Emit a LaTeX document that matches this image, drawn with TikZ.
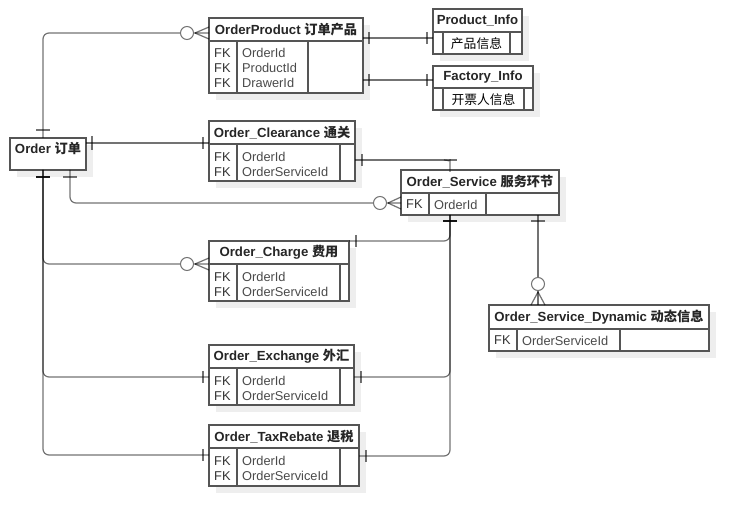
\documentclass[tikz,border=0pt]{standalone}
\usepackage{fontspec}
\setmainfont{Liberation Sans}
\newfontfamily\cjk{Noto Sans CJK SC}
\definecolor{bordc}{HTML}{555555}
\definecolor{shadc}{HTML}{EEEEEE}
\definecolor{txtc}{HTML}{333333}
\definecolor{fldc}{HTML}{4A4A4A}
\tikzset{
 box/.style={draw=bordc, line width=1.3pt, fill=white, inner sep=0pt, outer sep=0pt},
 divl/.style={draw=bordc, line width=1.1pt},
 conn/.style={draw=black, draw opacity=0.55, line width=1.2pt, rounded corners=6pt},
 tick/.style={draw=black, draw opacity=0.55, line width=1.2pt},
 ring/.style={circle, draw=black!55, fill=white, line width=1pt, minimum size=13pt, inner sep=0pt},
 htxt/.style={font=\fontsize{13.2}{15}\selectfont\bfseries, text=black!85, inner sep=0pt},
 ftxt/.style={font=\fontsize{12.8}{15}\selectfont, text=fldc, inner sep=0pt, anchor=west},
 fktxt/.style={font=\fontsize{12.8}{15}\selectfont, text=txtc, inner sep=0pt, anchor=west},
 cjktxt/.style={font=\fontsize{12.8}{15}\selectfont\cjk, text=black, inner sep=0pt},
}
% rectangle node from corners
\newcommand\rectnode[5]{%
 \pgfmathsetmacro\cxx{(#2+#4)/2}\pgfmathsetmacro\cyy{(#3+#5)/2}%
 \pgfmathsetmacro\ww{#4-#2}\pgfmathsetmacro\hh{#5-#3}%
 \node[box, minimum width=\ww pt, minimum height=\hh pt] (#1) at (\cxx,\cyy) {};}
% entity: #1 name, #2 x1, #3 y1, #4 x2, #5 yh, #6 y2, #7 header, #8 div1, #9 div2
\newcommand\entity[9]{%
 \fill[shadc] (#2+7,#3+7) rectangle (#4+7,#6+7);
 \rectnode{#1}{#2}{#3}{#4}{#5}
 \rectnode{#1b}{#2}{#5}{#4}{#6}
 \node[htxt] (#1t) at (#1.center) {#7};
 \draw[divl] (#8,#5) -- (#8,#6);
 \draw[divl] (#9,#5) -- (#9,#6);
}
\begin{document}
\begin{tikzpicture}[x=1pt,y=-1pt]
\useasboundingbox[fill=white] (0,0) rectangle (748,526);

% Order
\fill[shadc] (17,145) rectangle (93,177);
\rectnode{ord}{10}{138}{86}{170}
\node[htxt] (ordt) at (48,148) {Order {\cjk 订单}};

% entities
\entity{op}{209}{18}{363}{41}{93}{OrderProduct {\cjk 订单产品}}{237}{308}
\node[fktxt] (op1a) at (214,53) {FK};
\node[fktxt] (op2a) at (214,68) {FK};
\node[fktxt] (op3a) at (214,83) {FK};
\node[ftxt] (op1b) at (242,53) {OrderId};
\node[ftxt] (op2b) at (242,68) {ProductId};
\node[ftxt] (op3b) at (242,83) {DrawerId};

\entity{pi}{433}{9}{522}{32}{54}{Product\_Info}{443}{510}
\node[cjktxt] (pit1) at (476.5,43.5) {产品信息};

\entity{fi}{433}{66}{533}{88}{110}{Factory\_Info}{443}{524}
\node[cjktxt] (fit1) at (483.5,99.5) {开票人信息};

\entity{oc}{209}{121}{355}{144}{181}{Order\_Clearance {\cjk 通关}}{237}{340}
\node[fktxt] (oc1a) at (214,157) {FK};
\node[fktxt] (oc2a) at (214,172) {FK};
\node[ftxt] (oc1b) at (242,157) {OrderId};
\node[ftxt] (oc2b) at (242,172) {OrderServiceId};

\entity{os}{401}{170}{559}{193}{215}{Order\_Service {\cjk 服务环节}}{429}{486}
\node[fktxt] (os1a) at (406,204.5) {FK};
\node[ftxt] (os1b) at (434,204.5) {OrderId};

\entity{ch}{209}{241}{349}{264}{301}{Order\_Charge {\cjk 费用}}{237}{340}
\node[fktxt] (ch1a) at (214,277) {FK};
\node[fktxt] (ch2a) at (214,292) {FK};
\node[ftxt] (ch1b) at (242,277) {OrderId};
\node[ftxt] (ch2b) at (242,292) {OrderServiceId};

\entity{ex}{209}{345}{354}{368}{405}{Order\_Exchange {\cjk 外汇}}{237}{340}
\node[fktxt] (ex1a) at (214,381) {FK};
\node[fktxt] (ex2a) at (214,396) {FK};
\node[ftxt] (ex1b) at (242,381) {OrderId};
\node[ftxt] (ex2b) at (242,396) {OrderServiceId};

\entity{tr}{209}{425}{359}{448}{486}{Order\_TaxRebate {\cjk 退税}}{237}{340}
\node[fktxt] (tr1a) at (214,461) {FK};
\node[fktxt] (tr2a) at (214,476) {FK};
\node[ftxt] (tr1b) at (242,461) {OrderId};
\node[ftxt] (tr2b) at (242,476) {OrderServiceId};

\entity{sd}{489}{305}{709}{329}{351}{Order\_Service\_Dynamic {\cjk 动态信息}}{517}{620}
\node[fktxt] (sd1a) at (494,340.5) {FK};
\node[ftxt] (sd1b) at (522,340.5) {OrderServiceId};

% connectors
\draw[conn] (ord.north -| 43,0) |- (op.west |- 0,33);
\draw[conn] (op.east |- 0,38) -- (pib.west |- 0,38);
\draw[conn] (opb.east |- 0,80) -- (fi.west |- 0,80);
\draw[conn] (ord.east |- 0,143) -- (oc.west |- 0,143);
\draw[conn] (ord.south -| 70,0) |- (osb.west |- 0,203);
\draw[conn] (ord.south -| 43,0) |- (ch.south west);
\draw[conn] (ord.south -| 43,0) |- (exb.west |- 0,377);
\draw[conn] (ord.south -| 43,0) |- (trb.west |- 0,455);
\draw[conn] (ocb.east |- 0,160) -- (457,160);
\draw[conn] (444,160) .. controls (448,160) and (450,162) .. (450,166) -- (os.north -| 450,0);
\draw[conn] (osb.south -| 450,0) |- (ch.north east);
\draw[conn] (osb.south -| 450,0) |- (exb.east |- 0,377);
\draw[conn] (osb.south -| 450,0) |- (trb.east |- 0,456);
\draw[conn] (osb.south -| 538,0) -- (sd.north -| 538,0);

% one-marks
\draw[tick] (36,130) -- (50,130);
\draw[tick] (369,32) -- (369,44);
\draw[tick] (427,32) -- (427,44);
\draw[tick] (369,74) -- (369,86);
\draw[tick] (427,74) -- (427,86);
\draw[tick] (92,136) -- (92,150);
\draw[tick] (203,137) -- (203,149);
\draw[tick] (63,177) -- (77,177);
\foreach \k in {1,2,3} {\draw[tick] (36,177) -- (50,177);}
\draw[tick] (203,371) -- (203,383);
\draw[tick] (203,449) -- (203,461);
\draw[tick] (362,154) -- (362,166);
\draw[tick] (356,235) -- (356,247);
\draw[tick] (361,371) -- (361,383);
\draw[tick] (366,450) -- (366,462);
\foreach \k in {1,2,3} {\draw[tick] (443,221) -- (457,221);}
\draw[tick] (531,221) -- (545,221);

% zero-or-many marks
\node[ring] (r1) at (187,33) {};
\draw[tick] (195,33) -- (op.west |- 0,27);
\draw[tick] (195,33) -- (op.west |- 0,39);
\node[ring] (r2) at (380,203) {};
\draw[tick] (388,203) -- (osb.west |- 0,197);
\draw[tick] (388,203) -- (osb.west |- 0,209);
\node[ring] (r3) at (187,264) {};
\draw[tick] (195,264) -- (ch.west |- 0,258);
\draw[tick] (195,264) -- (chb.west |- 0,270);
\node[ring] (r4) at (538,284) {};
\draw[tick] (538,292) -- (sd.north -| 531,0);
\draw[tick] (538,292) -- (sd.north -| 545,0);
\end{tikzpicture}
\end{document}
